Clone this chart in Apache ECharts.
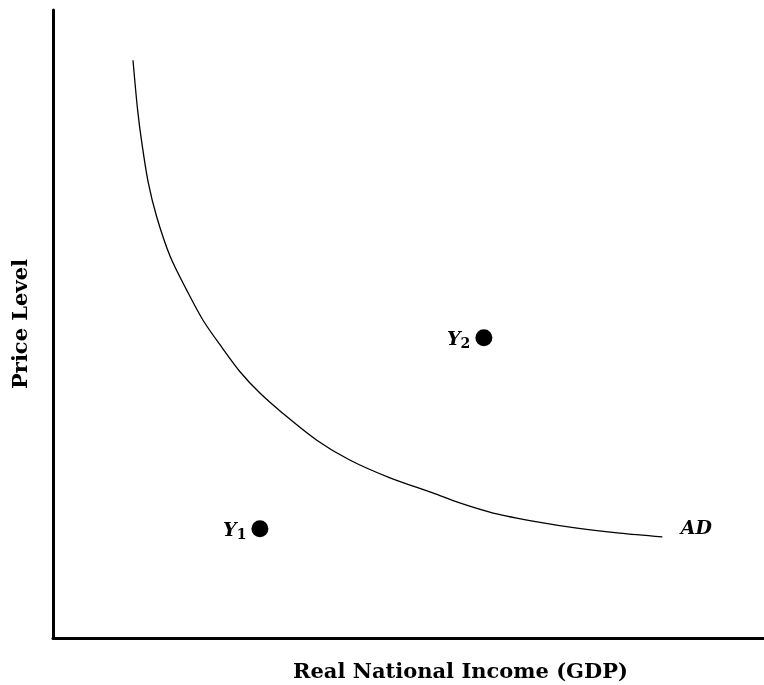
<!DOCTYPE html>
<html>
<head>
<meta charset="utf-8">
<script src="https://cdn.jsdelivr.net/npm/echarts@6/dist/echarts.min.js"></script>
<style>
html, body { margin: 0; padding: 0; background: #fff; }
#main { width: 764px; height: 685px; }
</style>
</head>
<body>
<div id="main"></div>
<script>
// AD curve (0-100 scale on both axes)
var adX = [11.25, 11.9, 12.5, 13.4, 14.6, 16.5, 18.8, 21.1, 23.8, 26.3, 29.1, 32.3, 37.1, 41.8, 47.4, 53.4, 57.2, 61.9, 68.1, 73.7, 79.7, 85.7];
var adY = [92.0, 84.1, 78.8, 72.5, 67.0, 60.7, 55.4, 50.6, 46.2, 42.4, 39.0, 35.8, 31.5, 28.3, 25.5, 23.1, 21.5, 19.9, 18.5, 17.5, 16.7, 16.1];
// the two income points
var ptNames = ['1', '2'];
var ptX = [29.1, 60.6];
var ptY = [17.4, 47.8];
var adLabel = 'AD';

var serif = '"DejaVu Serif", "Liberation Serif", serif';

var curve = [];
for (var i = 0; i < adX.length; i++) {
	curve.push([adX[i], adY[i]]);
}
var last = curve[curve.length - 1];

var pts = [];
for (var j = 0; j < ptX.length; j++) {
	pts.push({ name: ptNames[j], value: [ptX[j], ptY[j]] });
}

var chart = echarts.init(document.getElementById('main'));
var option = {
	animation: false,
	grid: { left: 53, right: 0, top: 10, bottom: 47, outerBoundsMode: 'none', containLabel: false },
	xAxis: {
		type: 'value', min: 0, max: 100,
		name: 'Real National Income (GDP)',
		nameLocation: 'middle',
		nameGap: 24,
		nameTextStyle: {
			color: '#000', fontFamily: serif, fontWeight: 'bold', fontSize: 21,
			padding: [0, 0, 0, 104]
		},
		axisLine: { lineStyle: { color: '#000', width: 3 } },
		axisTick: { show: false },
		axisLabel: { show: false },
		splitLine: { show: false }
	},
	yAxis: {
		type: 'value', min: 0, max: 100,
		name: 'Price Level',
		nameLocation: 'middle',
		nameGap: 21,
		nameTextStyle: { color: '#000', fontFamily: serif, fontWeight: 'bold', fontSize: 21 },
		axisLine: { lineStyle: { color: '#000', width: 3 } },
		axisTick: { show: false },
		axisLabel: { show: false },
		splitLine: { show: false }
	},
	series: [
		{
			type: 'line',
			data: curve,
			smooth: 0.3,
			showSymbol: false,
			symbol: 'none',
			lineStyle: { color: '#000', width: 1.3 }
		},
		{
			type: 'scatter',
			data: pts,
			symbolSize: 17,
			itemStyle: { color: '#000', opacity: 1 },
			label: {
				show: true,
				position: 'left',
				distance: 5,
				formatter: function(p) { return '{y|Y}{s|' + p.name + '}'; },
				rich: {
					y: { color: '#000', fontFamily: serif, fontWeight: 'bold', fontStyle: 'italic', fontSize: 19, padding: [4, 0, 0, 0] },
					s: { color: '#000', fontFamily: serif, fontWeight: 'bold', fontSize: 14, padding: [14, 0, 0, 0] }
				}
			}
		},
		{
			type: 'scatter',
			data: [{ name: adLabel, value: last }],
			symbolSize: 1,
			itemStyle: { color: 'rgba(0,0,0,0)', opacity: 1 },
			label: {
				show: true,
				position: 'right',
				distance: 18,
				offset: [0, -8],
				formatter: '{b}',
				color: '#000',
				fontFamily: serif,
				fontWeight: 'bold',
				fontStyle: 'italic',
				fontSize: 19
			}
		}
	]
};
chart.setOption(option);
</script>
</body>
</html>
